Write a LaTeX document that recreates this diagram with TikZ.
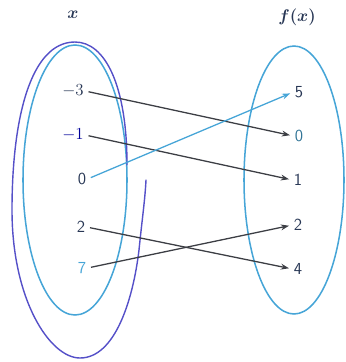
\documentclass[tikz,border=0pt]{standalone}
\usepackage{amsmath}
\usepackage{xcolor}
\usepackage{tikz}
\usetikzlibrary{calc,arrows.meta}

\definecolor{setblue}{RGB}{70,165,215}
\definecolor{lasso}{RGB}{85,80,200}
\definecolor{ink}{RGB}{40,55,85}
\definecolor{linkgray}{RGB}{60,62,68}

\tikzset{
  val/.style={font=\sffamily\Large, text=ink, inner sep=1pt},
  head/.style={font=\bfseries\Large, text=ink},
  link/.style={-{Stealth[length=7pt,width=5pt]}, linkgray, line width=1.1pt, shorten <=3pt, shorten >=3pt}
}

\begin{document}
\begin{tikzpicture}[x=0.03cm, y=-0.03cm]
        \useasboundingbox (0,0) rectangle (346,362);

        % 1. Draw the two sets (domain and range)
        \draw[setblue, line width=1.3pt] (75,180) ellipse (52 and 135);
        \draw[setblue, line width=1.3pt] (294,180) ellipse (50 and 134);

        % Hand-drawn loop around the domain
        \draw[lasso, line width=1.2pt, line cap=round]
            (127,165) .. controls (127,85) and (105,42) .. (75,42)
            .. controls (30,42) and (12,120) .. (12,210)
            .. controls (12,300) and (50,358) .. (80,358)
            .. controls (115,358) and (133,300) .. (139,250)
            .. controls (142,220) and (145,200) .. (146,180);

        % 2. Headings
        \node[head] (hx) at (73,15) {$\boldsymbol{x}$};
        \node[head] (hf) at (297,17) {$\boldsymbol{f(x)}$};

        % 3. Domain values
        \node[val] (xm3) at (73,91) {$-3$};
        \node[val, text=blue!60!black] (xm1) at (73,135) {$-1$};
        \node[val] (x0) at (82,179) {0};
        \node[val] (x2) at (81,227) {2};
        \node[val, text=setblue] (x7) at (82,268) {7};

        % 4. Range values
        \node[val] (y5) at (299,92) {5};
        \node[val, text=setblue!70!black] (y0) at (299,136) {0};
        \node[val] (y1) at (298,180) {1};
        \node[val] (y2) at (298,225) {2};
        \node[val] (y4) at (298,269) {4};

        % 5. Mapping arrows
        \draw[link] (xm3.east) -- (y0.west);
        \draw[link] (xm1.east) -- (y1.west);
        \draw[link, setblue] (x0.east) -- (y5.west);
        \draw[link] (x2.east) -- (y4.west);
        \draw[link] (x7.east) -- (y2.west);

\end{tikzpicture}
\end{document}
